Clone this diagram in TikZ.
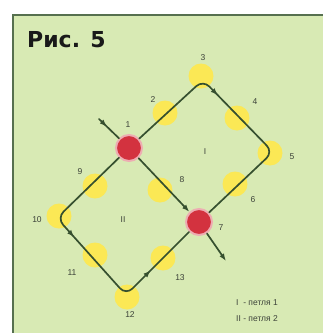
\documentclass[tikz,border=0pt]{standalone}
\usepackage{fontspec}
\setmainfont{Liberation Sans}
\newfontfamily\titlefont{DejaVu Sans}
\usetikzlibrary{arrows.meta,decorations.markings}
\definecolor{PanelGreen}{HTML}{D8EAB4}
\definecolor{FrameGreen}{HTML}{56704F}
\definecolor{WireGreen}{HTML}{36502F}
\definecolor{SpotYellow}{HTML}{FFE84A}
\definecolor{NodeRed}{HTML}{D3323F}
\definecolor{LabelGrey}{HTML}{3C4239}
\tikzset{
  spot/.style={circle,fill=SpotYellow!90!PanelGreen,minimum size=25pt,inner sep=0pt},
  junction/.style={circle,fill=NodeRed,draw=NodeRed!40,line width=2pt,minimum size=26pt,inner sep=0pt},
  wire/.style={WireGreen,line width=1.7pt,line cap=round,line join=round},
  num/.style={font=\fontsize{8.5}{9}\selectfont,text=LabelGrey},
  flowmark/.style={postaction={decorate,decoration={markings,
    mark=at position #1 with {\arrow{Latex[length=2.6mm,width=1.9mm]}}}}}
}

\begin{document}
\begin{tikzpicture}[x=1pt,y=-1pt]
  \useasboundingbox (0,0) rectangle (323,333);
  \fill[white] (0,0) rectangle (323,333);
  \fill[PanelGreen] (13,15) rectangle (323,333);
  \draw[FrameGreen,line width=1.5pt] (13,333) -- (13,15) -- (323,15);
  \node[font=\titlefont\bfseries\fontsize{22}{22}\selectfont,text=black!90,anchor=west,inner sep=0pt]
    (title) at (27,40) {Рис. 5};

  \node[spot] (s2) at (165,113) {};
  \node[spot] (s3) at (201,76) {};
  \node[spot] (s4) at (237,118) {};
  \node[spot] (s5) at (270,153) {};
  \node[spot] (s6) at (235,184) {};
  \node[spot] (s8) at (160,190) {};
  \node[spot] (s9) at (95,186) {};
  \node[spot] (s10) at (59,216) {};
  \node[spot] (s11) at (95,255) {};
  \node[spot] (s12) at (127,297) {};
  \node[spot] (s13) at (163,258) {};

  \coordinate (c3) at (203,80);
  \coordinate (c5) at (273,152);
  \coordinate (c10) at (57,218);
  \coordinate (c12) at (126,295);
  \coordinate (entry) at (99,119);
  \coordinate (exit) at (226,261);
  \node[junction] (n1) at (129,148) {};
  \node[junction] (n7) at (199,222) {};

  \draw[wire,rounded corners=9pt,flowmark=0.39] (n1) -- (c3) -- (c5) -- (n7);
  \draw[wire,rounded corners=9pt,flowmark=0.40,flowmark=0.80] (n1) -- (c10) -- (c12) -- (n7);
  \draw[wire,-{Latex[length=2.6mm,width=1.9mm]}] (n1) -- (n7);
  \draw[wire,flowmark=0.4] (entry) -- (n1);
  \draw[wire,-{Latex[length=2.6mm,width=1.9mm]}] (n7) -- (exit);

  \node[num] (l1) at (128,125) {1};
  \node[num] (l2) at (153,100) {2};
  \node[num] (l3) at (203,58) {3};
  \node[num] (l4) at (255,102) {4};
  \node[num] (l5) at (292,157) {5};
  \node[num] (l6) at (253,200) {6};
  \node[num] (l7) at (221,228) {7};
  \node[num] (l8) at (182,180) {8};
  \node[num] (l9) at (80,172) {9};
  \node[num] (l10) at (37,220) {10};
  \node[num] (l11) at (72,273) {11};
  \node[num] (l12) at (130,315) {12};
  \node[num] (l13) at (180,278) {13};
  \node[num] (loopI) at (205,152) {I};
  \node[num] (loopII) at (123,220) {II};

  \node[num,anchor=west,inner sep=0pt] (key1) at (236,303) {I\ \ -\ петля 1};
  \node[num,anchor=west,inner sep=0pt] (key2) at (236,319) {II\ -\ петля 2};
\end{tikzpicture}
\end{document}
